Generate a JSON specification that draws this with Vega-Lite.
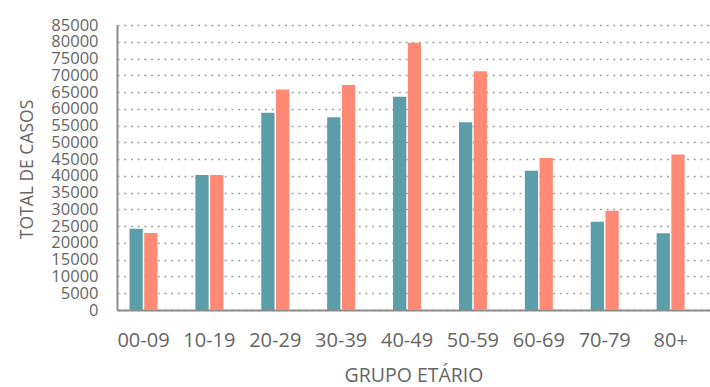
{
  "$schema": "https://vega.github.io/schema/vega-lite/v6.json",
  "width": 593,
  "height": 285,
  "autosize": {"type": "none"},
  "padding": {"left": 117, "top": 25, "right": 0, "bottom": 77},
  "background": "white",
  "config": {
    "view": {"stroke": null},
    "font": "Open Sans"
  },
  "data": {
    "values": [
      {"grupo": "00-09", "sexo": "Masculino", "casos": 24200},
      {"grupo": "00-09", "sexo": "Feminino", "casos": 23000},
      {"grupo": "10-19", "sexo": "Masculino", "casos": 40300},
      {"grupo": "10-19", "sexo": "Feminino", "casos": 40300},
      {"grupo": "20-29", "sexo": "Masculino", "casos": 58800},
      {"grupo": "20-29", "sexo": "Feminino", "casos": 65800},
      {"grupo": "30-39", "sexo": "Masculino", "casos": 57500},
      {"grupo": "30-39", "sexo": "Feminino", "casos": 67100},
      {"grupo": "40-49", "sexo": "Masculino", "casos": 63600},
      {"grupo": "40-49", "sexo": "Feminino", "casos": 79700},
      {"grupo": "50-59", "sexo": "Masculino", "casos": 56000},
      {"grupo": "50-59", "sexo": "Feminino", "casos": 71200},
      {"grupo": "60-69", "sexo": "Masculino", "casos": 41500},
      {"grupo": "60-69", "sexo": "Feminino", "casos": 45300},
      {"grupo": "70-79", "sexo": "Masculino", "casos": 26300},
      {"grupo": "70-79", "sexo": "Feminino", "casos": 29600},
      {"grupo": "80+", "sexo": "Masculino", "casos": 22900},
      {"grupo": "80+", "sexo": "Feminino", "casos": 46400}
    ]
  },
  "mark": {"type": "bar"},
  "encoding": {
    "x": {
      "field": "grupo",
      "type": "nominal",
      "sort": null,
      "scale": {"paddingInner": 0.575, "paddingOuter": 0.2875, "align": 0.33},
      "axis": {
        "title": "GRUPO ETÁRIO",
        "labelAngle": 0,
        "labelFont": "Open Sans",
        "labelFontSize": 20,
        "labelColor": "#666666",
        "labelDx": 7,
        "labelPadding": 30,
        "labelBaseline": "middle",
        "ticks": false,
        "domain": true,
        "domainColor": "#8c8c8c",
        "domainWidth": 2,
        "titleFont": "Open Sans",
        "titleFontSize": 19.5,
        "titleFontWeight": "normal",
        "titleColor": "#666666",
        "titleY": 65,
        "titleBaseline": "middle"
      }
    },
    "xOffset": {
      "field": "sexo",
      "type": "nominal",
      "scale": {"domain": ["Masculino", "Feminino"], "paddingInner": 0.1}
    },
    "y": {
      "field": "casos",
      "type": "quantitative",
      "scale": {"domain": [0, 85000], "nice": false},
      "axis": {
        "title": "TOTAL DE CASOS",
        "format": "d",
        "values": [0, 5000, 10000, 15000, 20000, 25000, 30000, 35000, 40000, 45000, 50000, 55000, 60000, 65000, 70000, 75000, 80000, 85000],
        "labelOverlap": false,
        "labelFont": "Open Sans",
        "labelFontSize": 16.5,
        "labelColor": "#666666",
        "labelPadding": 19,
        "labelBaseline": "middle",
        "ticks": false,
        "domain": true,
        "domainColor": "#8c8c8c",
        "domainWidth": 2,
        "grid": true,
        "gridColor": "#a0a0a0",
        "gridDash": [2, 4.7],
        "gridWidth": 1.6,
        "titleFont": "Open Sans",
        "titleFontSize": 17.5,
        "titleFontWeight": "normal",
        "titleColor": "#666666",
        "titleAngle": -90,
        "titleX": -89.5,
        "titleY": 144,
        "titleAlign": "center",
        "titleBaseline": "middle"
      }
    },
    "color": {
      "field": "sexo",
      "type": "nominal",
      "scale": {"domain": ["Masculino", "Feminino"], "range": ["#5b9ea9", "#fe8a76"]},
      "legend": null
    }
  }
}
